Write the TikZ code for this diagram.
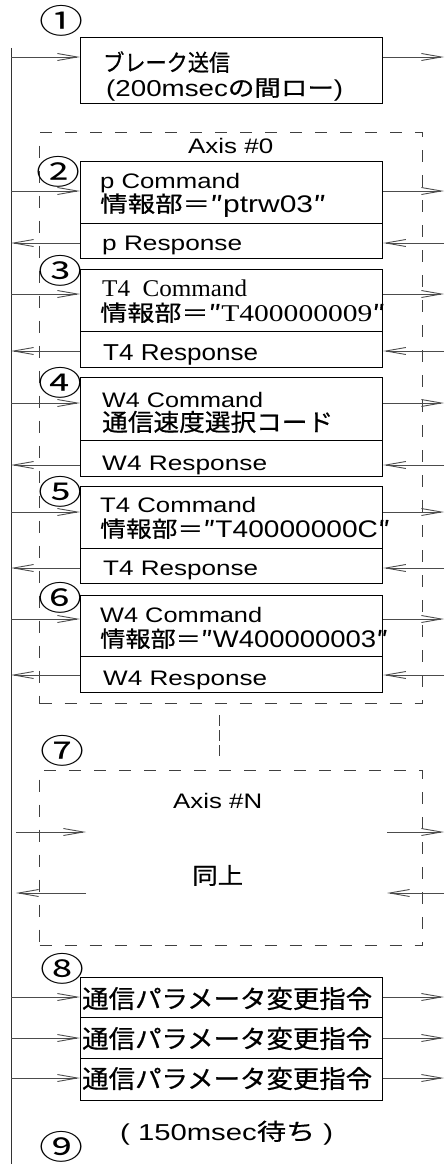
\documentclass[tikz,border=0pt]{standalone}
\usepackage{fontspec}
\setmainfont{Liberation Sans}
\newfontfamily\jp{Noto Sans CJK JP}[FakeBold=0.6]
\newfontfamily\jpc{Noto Sans CJK JP}
\newfontfamily\sr{Liberation Serif}
\usetikzlibrary{arrows.meta}
\newcommand\fitw[2]{\resizebox{#1pt}{\height}{#2}}
\newcommand\cj{\fontsize{22}{22}\selectfont\jp}
\newcommand\lt{\fontsize{24}{24}\selectfont\rmfamily}
\newcommand\circnum[1]{\resizebox*{44pt}{31pt}{\jpc #1}}
\tikzset{
  box/.style={draw=black, line width=1.2pt, minimum width=302pt, inner sep=0pt, anchor=north west},
  dbox/.style={draw=black!75, line width=1pt, dash pattern=on 12pt off 13pt, minimum width=383pt, inner sep=0pt, anchor=north west},
  arr/.style={draw=black!70, line width=0.9pt, -{Straight Barb[length=20pt,width=7pt,line width=0.9pt]}},
  vline/.style={draw=black!80, line width=1pt},
  dline/.style={draw=black!75, line width=1pt, dash pattern=on 11pt off 4pt},
  txt/.style={anchor=base west, inner sep=0pt, font=\fontsize{21}{21}\selectfont},
  num/.style={inner sep=0pt}
}
\begin{document}
\begin{tikzpicture}[x=1pt,y=-1pt]
\useasboundingbox (0,0) rectangle (445,1164);
% main vertical line
\coordinate (vtop) at (11,48);
\coordinate (vbot) at (11,1164);
\draw[vline] (vtop) -- (vbot);
% dashed axis boxes
\node[dbox, minimum height=571pt] (ax0) at (39,132) {};
\node[dbox, minimum height=175pt] (axN) at (39,770) {};
\coordinate (dv1) at (219,715);
\coordinate (dv2) at (219,758);
\draw[dline] (dv1) -- (dv2);
% boxes
\node[box, minimum height=66pt] (b1) at (80,37) {};
\node[box, minimum height=62pt] (b2c) at (80,161) {};
\node[box, minimum height=35pt] (b2r) at (80,223) {};
\node[box, minimum height=62pt] (b3c) at (80,269) {};
\node[box, minimum height=36pt] (b3r) at (80,331) {};
\node[box, minimum height=63pt] (b4c) at (80,377) {};
\node[box, minimum height=36pt] (b4r) at (80,440) {};
\node[box, minimum height=62pt] (b5c) at (80,486) {};
\node[box, minimum height=35pt] (b5r) at (80,548) {};
\node[box, minimum height=61pt] (b6c) at (80,595) {};
\node[box, minimum height=36pt] (b6r) at (80,656) {};
\node[box, minimum height=40pt] (b8a) at (80,977) {};
\node[box, minimum height=41pt] (b8b) at (80,1017) {};
\node[box, minimum height=42pt] (b8c) at (80,1058) {};
% command arrows
\foreach \y/\b in {57/b1,191/b2c,294/b3c,403/b4c,512/b5c,619/b6c,997/b8a,1038/b8b,1078/b8c}{
  \coordinate (L) at (11,\y);
  \coordinate (R) at (444,\y);
  \draw[arr] (L) -- (L -| \b.west);
  \draw[arr] (R -| \b.east) -- (R);
}
% response arrows
\foreach \y/\b in {243/b2r,351/b3r,465/b4r,568/b5r,675/b6r}{
  \coordinate (L) at (11,\y);
  \coordinate (R) at (444,\y);
  \draw[arr] (L -| \b.west) -- (L);
  \draw[arr] (R) -- (R -| \b.east);
}
% axis N arrows
\coordinate (nL1) at (16,832); \coordinate (nL2) at (86,832);
\coordinate (nR1) at (387,832); \coordinate (nR2) at (444,832);
\coordinate (mL1) at (86,893); \coordinate (mL2) at (16,893);
\coordinate (mR1) at (444,893); \coordinate (mR2) at (387,893);
\draw[arr] (nL1) -- (nL2);
\draw[arr] (nR1) -- (nR2);
\draw[arr] (mL1) -- (mL2);
\draw[arr] (mR1) -- (mR2);
% texts
\node[txt] (t1a) at (103,71) {\fitw{127}{\fontsize{23}{23}\selectfont\jp ブレーク送信}};
\node[txt] (t1b) at (106,96) {\fitw{237}{\fontsize{23}{23}\selectfont(200msec{\cj の間ロー})}};
\node[txt] (tax0) at (188,153) {\fitw{85}{Axis \#0}};
\node[txt] (t2a) at (100,188) {\fitw{140}{p Command}};
\node[txt] (t2b) at (100,212) {\fitw{226}{{\cj 情報部＝″}{\lt ptrw03}{\cj ″}}};
\node[txt] (t2c) at (102,250) {\fitw{140}{p Response}};
\node[txt] (t3a) at (102,296) {\fitw{145}{\fontsize{24}{24}\selectfont\sr T4\ \ Command}};
\node[txt] (t3b) at (100,321) {\fitw{285}{{\cj 情報部＝″}{\fontsize{24}{24}\selectfont\sr T400000009}{\cj ″}}};
\node[txt] (t3c) at (103,360) {\fitw{155}{\fontsize{23}{23}\selectfont T4 Response}};
\node[txt] (t4a) at (102,407) {\fitw{161}{W4 Command}};
\node[txt] (t4b) at (102,431) {\fitw{231}{\fontsize{24}{24}\selectfont\jp 通信速度選択コード}};
\node[txt] (t4c) at (102,470) {\fitw{165}{W4 Response}};
\node[txt] (t5a) at (100,512) {\fitw{156}{T4 Command}};
\node[txt] (t5b) at (100,537) {\fitw{290}{{\cj 情報部＝″}{\lt T40000000C}{\cj ″}}};
\node[txt] (t5c) at (103,575) {\fitw{155}{T4 Response}};
\node[txt] (t6a) at (100,622) {\fitw{162}{W4 Command}};
\node[txt] (t6b) at (100,647) {\fitw{288}{{\cj 情報部＝″}{\lt W400000003}{\cj ″}}};
\node[txt] (t6c) at (103,685) {\fitw{164}{W4 Response}};
\node[txt] (taxN) at (173,808) {\fitw{89}{Axis \#N}};
\node[txt] (tsame) at (192,884) {\fitw{51}{\fontsize{23}{23}\selectfont\jp 同上}};
\node[txt] (t8a) at (82,1008) {\fitw{290}{\fontsize{25}{25}\selectfont\jp 通信パラメータ変更指令}};
\node[txt] (t8b) at (82,1048) {\fitw{290}{\fontsize{25}{25}\selectfont\jp 通信パラメータ変更指令}};
\node[txt] (t8c) at (82,1088) {\fitw{290}{\fontsize{25}{25}\selectfont\jp 通信パラメータ変更指令}};
\node[txt] (twait) at (120,1140) {\fitw{213}{\fontsize{23}{23}\selectfont( 150msec{\fontsize{23}{23}\selectfont\jp 待ち} )}};
% circled numbers
\node[num] (n1) at (61,21) {\circnum{①}};
\node[num] (n2) at (58,172) {\circnum{②}};
\node[num] (n3) at (60,271) {\circnum{③}};
\node[num] (n4) at (60,383) {\circnum{④}};
\node[num] (n5) at (60,492) {\circnum{⑤}};
\node[num] (n6) at (60,598) {\circnum{⑥}};
\node[num] (n7) at (62,751) {\circnum{⑦}};
\node[num] (n8) at (62,969) {\circnum{⑧}};
\node[num] (n9) at (61,1147) {\circnum{⑨}};
\end{tikzpicture}
\end{document}
